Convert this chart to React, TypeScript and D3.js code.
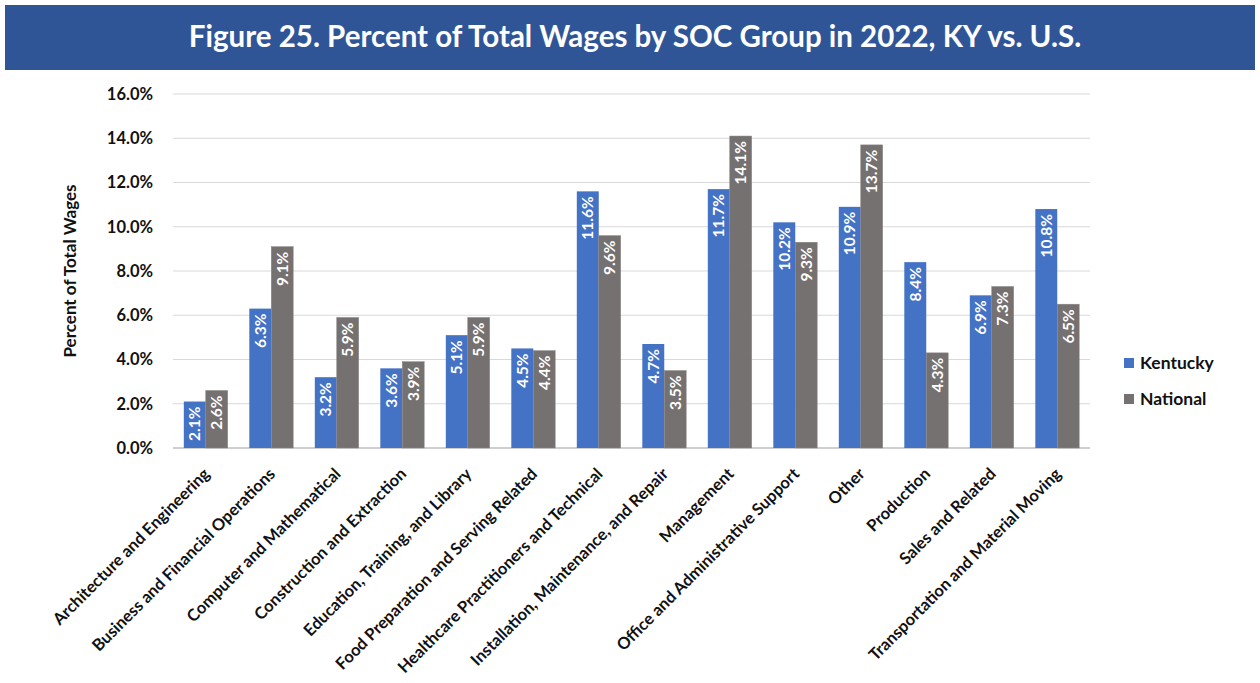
import React from "react";
import * as d3 from "d3";

const categories = [
  "Architecture and Engineering",
  "Business and Financial Operations",
  "Computer and Mathematical",
  "Construction and Extraction",
  "Education, Training, and Library",
  "Food Preparation and Serving Related",
  "Healthcare Practitioners and Technical",
  "Installation, Maintenance, and Repair",
  "Management",
  "Office and Administrative Support",
  "Other",
  "Production",
  "Sales and Related",
  "Transportation and Material Moving",
];
const kentucky = [2.1, 6.3, 3.2, 3.6, 5.1, 4.5, 11.6, 4.7, 11.7, 10.2, 10.9, 8.4, 6.9, 10.8];
const national = [2.6, 9.1, 5.9, 3.9, 5.9, 4.4, 9.6, 3.5, 14.1, 9.3, 13.7, 4.3, 7.3, 6.5];
const seriesNames = ["Kentucky", "National"];
const seriesColors = ["#4472C4", "#767171"];
const yTicks = [0, 2, 4, 6, 8, 10, 12, 14, 16];
const title = "Figure 25. Percent of Total Wages by SOC Group in 2022, KY vs. U.S.";

const FONT = "Lato, 'Open Sans', sans-serif";

export default function App() {
  const W = 1260, H = 683;
  const left = 173, right = 1090, top = 94, bottom = 448;
  const x = d3.scaleBand<string>().domain(categories).range([left, right]).paddingInner(0.33).paddingOuter(0.165);
  const xs = d3.scaleBand<string>().domain(seriesNames).range([0, x.bandwidth()]);
  const y = d3.scaleLinear().domain([0, 16]).range([bottom, top]);
  const series = [kentucky, national];

  return (
    <svg width={W} height={H} style={{ position: "absolute", left: 0, top: 0, background: "#fff" }} fontFamily={FONT}>
      <rect x={5} y={5} width={1250} height={65} fill="#2F5597" />
      <text x={635} y={47} textAnchor="middle" fill="#fff" fontSize={29.5} fontWeight={700}>{title}</text>

      {yTicks.map((t) => (
        <g key={t}>
          <line x1={left} x2={right} y1={y(t)} y2={y(t)} stroke={t === 0 ? "#BFBFBF" : "#D9D9D9"} strokeWidth={t === 0 ? 1.5 : 1} />
          <text x={153} y={y(t)} dy="0.35em" textAnchor="end" fontSize={16.5} fontWeight={700} fill="#111">{t.toFixed(1) + "%"}</text>
        </g>
      ))}

      <text transform={`translate(76,${(top + bottom) / 2}) rotate(-90)`} textAnchor="middle" fontSize={17} fontWeight={700} fill="#111">Percent of Total Wages</text>

      {categories.map((c, i) => (
        <g key={c}>
          {series.map((vals, s) => {
            const bx = (x(c) as number) + (xs(seriesNames[s]) as number);
            const bw = xs.bandwidth();
            const by = y(vals[i]);
            return (
              <g key={s}>
                <rect x={bx} y={by} width={bw} height={bottom - by} fill={seriesColors[s]} stroke={s === 1 ? "#8a8585" : "none"} strokeWidth={0.5} />
                <text transform={`translate(${bx + bw / 2},${by + 5}) rotate(-90)`} textAnchor="end" dy="0.35em" fill="#fff" fontSize={15.5} fontWeight={700}>{vals[i].toFixed(1) + "%"}</text>
              </g>
            );
          })}
          <text transform={`translate(${(x(c) as number) + x.bandwidth() / 2 + 5},${bottom + 27}) rotate(-45)`} textAnchor="end" fontSize={16.5} fontWeight={700} fill="#111">{c}</text>
        </g>
      ))}

      {seriesNames.map((n, s) => (
        <g key={n} transform={`translate(1124,${363 + s * 36})`}>
          <rect x={0} y={-5} width={10} height={10} fill={seriesColors[s]} />
          <text x={16} y={0} dy="0.35em" fontSize={17.5} fontWeight={700} fill="#111">{n}</text>
        </g>
      ))}
    </svg>
  );
}
